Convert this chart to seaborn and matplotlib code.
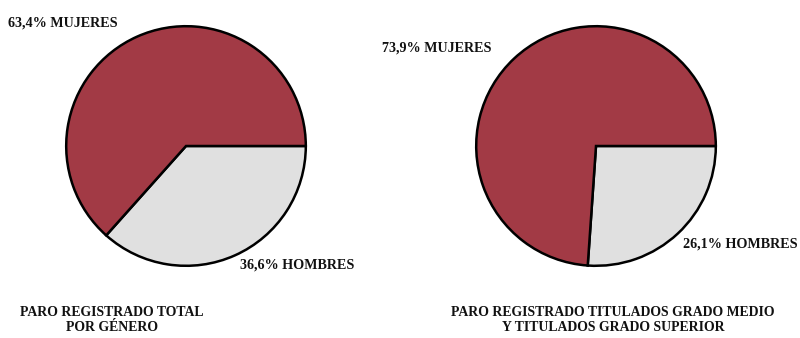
import matplotlib
matplotlib.use('Agg')
import matplotlib.pyplot as plt
import seaborn as sns

# datos
generos = ['HOMBRES', 'MUJERES']
total = [36.6, 63.4]
titulados = [26.1, 73.9]
colores = ['#e0e0e0', '#a23a45']

sns.set_theme(style='white')
plt.rcParams['font.family'] = ['Liberation Serif', 'DejaVu Serif']

W, H = 800, 338
fig = plt.figure(figsize=(W / 100, H / 100), dpi=100)


def pie_ax(cx, cy, r):
    ax = fig.add_axes([(cx - r) / W, (H - cy - r) / H, 2 * r / W, 2 * r / H])
    return ax


def etiqueta(x, y, s, ha='left', size=10.2):
    fig.text(x / W, 1 - y / H, s, ha=ha, va='center', fontsize=size,
             fontweight='bold', color='#111111', linespacing=1.2)


def fmt(v):
    return f'{v:.1f}'.replace('.', ',') + '%'


for (cx, valores) in [(186, total), (596, titulados)]:
    ax = pie_ax(cx, 146, 121)
    ax.pie(valores, colors=colores, startangle=0, counterclock=False,
           wedgeprops=dict(edgecolor='black', linewidth=1.8))
    ax.set_xlim(-1.01, 1.01)
    ax.set_ylim(-1.01, 1.01)
    ax.set_axis_off()

etiqueta(8, 23, f'{fmt(total[1])} {generos[1]}')
etiqueta(240, 265, f'{fmt(total[0])} {generos[0]}')
etiqueta(382, 48, f'{fmt(titulados[1])} {generos[1]}')
etiqueta(683, 244, f'{fmt(titulados[0])} {generos[0]}')

etiqueta(112, 320, 'PARO REGISTRADO TOTAL\nPOR GÉNERO', ha='center', size=9.9)
etiqueta(613, 320, 'PARO REGISTRADO TITULADOS GRADO MEDIO\nY TITULADOS GRADO SUPERIOR', ha='center', size=9.9)

fig.savefig('out.png', dpi=100, facecolor='white')
